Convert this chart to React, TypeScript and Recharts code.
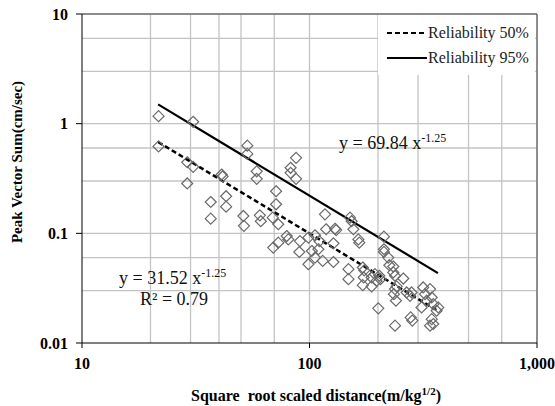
import React from "react";
import {
  CartesianGrid,
  ComposedChart,
  Legend,
  Line,
  ReferenceLine,
  Scatter,
  XAxis,
  YAxis,
} from "recharts";

const SERIF = "'Liberation Serif', 'Times New Roman', serif";

// square root scaled distance (m/kg^1/2)
const distance = [
  21.7, 30.8, 21.7, 29.0, 30.8, 29.0, 41.1, 41.5, 36.8, 43.0, 43.0, 36.8, 53.3, 53.3, 58.6, 58.6,
  71.3, 71.3, 87.3, 82.6, 82.6, 87.3, 51.2, 60.5, 68.9, 117, 51.5, 61.1, 72.9, 79.4, 80.7, 69.3,
  72.9, 90.8, 90.2, 98.9, 98.9, 105.7, 110.5, 109.4, 105.7, 114.3, 127.4, 118.3, 129.5, 131, 127.4,
  150.7, 153.2, 155.9, 164, 165.5, 148.3, 148.3, 171.5, 174, 173, 171.5, 187.5, 202.6, 205, 200.6,
  212.4, 212.4, 212.4, 221.9, 224.4, 233.5, 237.6, 258.4, 241.6, 235, 239.8, 237.6, 281, 278.5, 283,
  316, 187.5, 197.2, 194, 233.5, 237.6, 267.3, 276.6, 338.8, 322, 344.6, 327.5, 311, 350, 368, 362,
  344.6, 338.8, 350, 102.4,
];

// peak vector sum (cm/sec)
const pvs = [
  1.17, 1.04, 0.62, 0.445, 0.404, 0.285, 0.344, 0.33, 0.193, 0.218, 0.175, 0.136, 0.63, 0.53, 0.368,
  0.314, 0.242, 0.184, 0.488, 0.396, 0.356, 0.314, 0.144, 0.146, 0.139, 0.149, 0.117, 0.129, 0.121,
  0.0945, 0.088, 0.0741, 0.0822, 0.085, 0.0676, 0.0914, 0.0523, 0.096, 0.085, 0.0716, 0.0601, 0.056,
  0.0548, 0.109, 0.11, 0.107, 0.081, 0.139, 0.129, 0.109, 0.088, 0.0822, 0.0471, 0.0382, 0.0488,
  0.046, 0.0396, 0.0337, 0.0328, 0.041, 0.0382, 0.0207, 0.0933, 0.0716, 0.0677, 0.0601, 0.0512,
  0.0498, 0.041, 0.0387, 0.0328, 0.0279, 0.0243, 0.0144, 0.0289, 0.0171, 0.016, 0.0321, 0.0396,
  0.0368, 0.0424, 0.044, 0.031, 0.0289, 0.0269, 0.031, 0.0279, 0.026, 0.0243, 0.0211, 0.0226,
  0.0211, 0.0197, 0.0165, 0.0144, 0.0149, 0.069,
];

// fitted lines, end points
const fitX = [21.6, 367];
const fit50 = [0.68, 0.0196];
const fit95 = [1.5, 0.0434];

const xTicks = [10, 100, 1000];
const yTicks = [0.01, 0.1, 1, 10];
const xGrid = [20, 30, 40, 50, 60, 70, 80, 90, 100, 200, 300, 400, 500, 600, 700, 800, 900, 1000];
const yGrid = [
  0.02, 0.03, 0.04, 0.05, 0.06, 0.07, 0.08, 0.09, 0.1, 0.2, 0.3, 0.4, 0.5, 0.6, 0.7, 0.8, 0.9, 1, 2,
  3, 4, 5, 6, 7, 8, 9, 10,
];

const points = distance.map((x, i) => ({ x, y: pvs[i] }));
const line50 = fitX.map((x, i) => ({ x, y: fit50[i] }));
const line95 = fitX.map((x, i) => ({ x, y: fit95[i] }));

const legendItems = [
  { label: "Reliability 50%", dash: "5 3" },
  { label: "Reliability 95%", dash: undefined },
];

function Diamond(props: any) {
  const { cx, cy } = props;
  if (cx == null || cy == null) return null;
  const r = 5.5;
  return (
    <path
      d={`M${cx},${cy - r}L${cx + r},${cy}L${cx},${cy + r}L${cx - r},${cy}Z`}
      fill="none"
      stroke="#6a6a6a"
      strokeWidth={1.2}
    />
  );
}

function LegendBox() {
  return (
    <div style={{ position: "relative", background: "#fff", width: 157, height: 60 }}>
      {legendItems.map((it, i) => (
        <div key={it.label} style={{ display: "flex", alignItems: "center", position: "absolute", top: 10 + i * 25, left: 9 }}>
          <svg width={40} height={10}>
            <line x1={0} y1={5} x2={40} y2={5} stroke="#000" strokeWidth={2} strokeDasharray={it.dash} />
          </svg>
          <span style={{ marginLeft: 1, fontFamily: SERIF, fontSize: 16, color: "#222", lineHeight: 1 }}>{it.label}</span>
        </div>
      ))}
    </div>
  );
}

const tickStyle = { fontSize: 16, fontWeight: "bold" as const, fill: "#000", fontFamily: SERIF };
const eqStyle = { position: "absolute" as const, fontSize: 18, lineHeight: 1, color: "#111", whiteSpace: "nowrap" as const };

export default function App() {
  return (
    <div style={{ position: "absolute", left: 0, top: 0, width: 555, height: 406, background: "#fff", fontFamily: SERIF }}>
      <ComposedChart width={555} height={406} margin={{ top: 14, right: 18, bottom: 0, left: 0 }}>
        <CartesianGrid
          stroke="#c4c4c4"
          strokeWidth={1.3}
          verticalValues={xGrid}
          horizontalValues={yGrid}
        />
        <XAxis
          dataKey="x"
          type="number"
          scale="log"
          domain={[10, 1000]}
          ticks={xTicks}
          allowDataOverflow
          height={63}
          tickSize={5}
          tickMargin={10}
          stroke="#000"
          tick={tickStyle}
          tickFormatter={(v: number) => v.toLocaleString("en-US")}
        />
        <YAxis
          dataKey="y"
          type="number"
          scale="log"
          domain={[0.01, 10]}
          ticks={yTicks}
          allowDataOverflow
          width={82}
          tickSize={6}
          tickMargin={8}
          stroke="#000"
          tick={tickStyle}
        />
        <ReferenceLine y={10} stroke="#444" strokeWidth={1} />
        <ReferenceLine x={1000} stroke="#444" strokeWidth={1} />
        <Scatter data={points} shape={<Diamond />} isAnimationActive={false} legendType="none" />
        <Line data={line50} dataKey="y" stroke="#000" strokeWidth={2.5} strokeDasharray="5 3" dot={false} isAnimationActive={false} legendType="none" />
        <Line data={line95} dataKey="y" stroke="#000" strokeWidth={2.2} dot={false} isAnimationActive={false} legendType="none" />
        <Legend
          layout="vertical"
          align="center"
          verticalAlign="middle"
          content={<LegendBox />}
          wrapperStyle={{ left: 378, top: 15, width: 157, height: 60 }}
        />
      </ComposedChart>

      <div style={{ ...eqStyle, left: 339, top: 132 }}>
        y = 69.84 x<sup style={{ fontSize: 12 }}>-1.25</sup>
      </div>
      <div style={{ ...eqStyle, left: 119, top: 267 }}>
        y = 31.52 x<sup style={{ fontSize: 12 }}>-1.25</sup>
      </div>
      <div style={{ ...eqStyle, left: 140, top: 290 }}>
        R² = 0.79
      </div>
      <div
        style={{
          position: "absolute",
          left: 17,
          top: 162,
          transform: "translate(-50%, -50%) rotate(-90deg)",
          fontSize: 15,
          fontWeight: "bold",
          whiteSpace: "nowrap",
        }}
      >
        Peak Vector Sum(cm/sec)
      </div>
      <div
        style={{
          position: "absolute",
          left: 316,
          top: 385,
          transform: "translateX(-50%)",
          fontSize: 16,
          fontWeight: "bold",
          whiteSpace: "pre",
        }}
      >
        Square  root scaled distance(m/kg<sup style={{ fontSize: 11 }}>1/2</sup>)
      </div>
    </div>
  );
}
